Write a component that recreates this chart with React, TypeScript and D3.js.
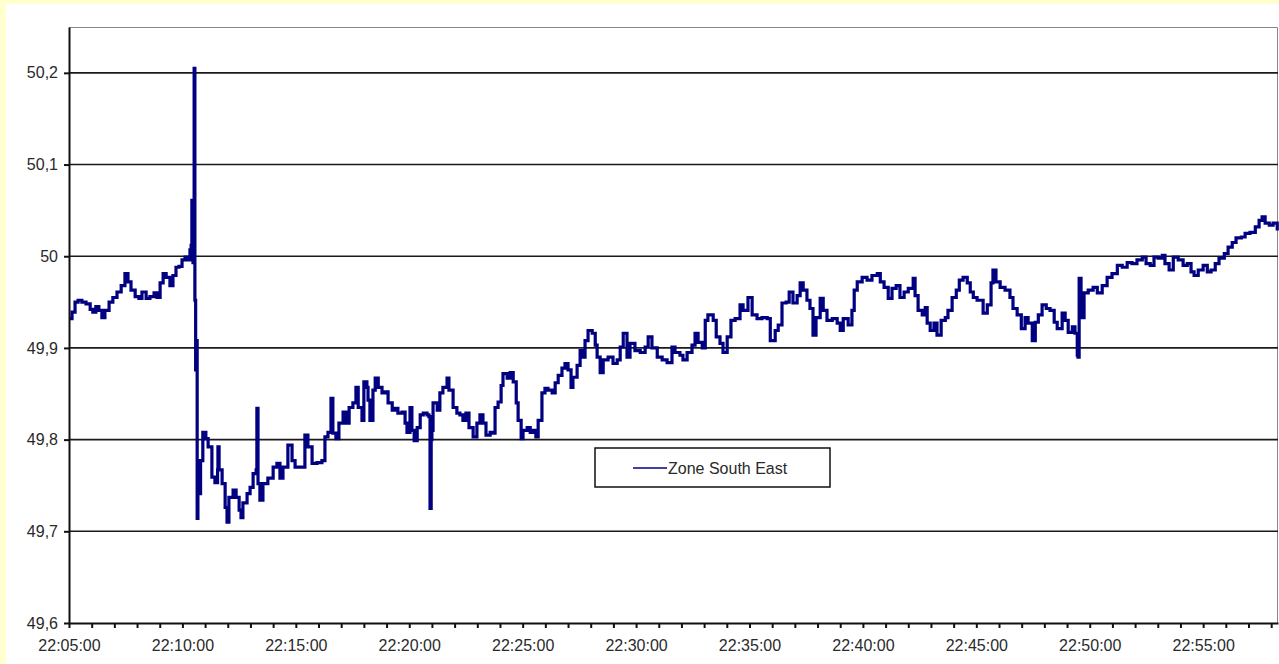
import React, { useEffect, useRef } from 'react'
import * as d3 from 'd3'

// y axis ticks (Hz)
const yTicks = [49.6, 49.7, 49.8, 49.9, 50.0, 50.1, 50.2]
const xStart = '22:05:00'
const xEnd = '22:58:18'
const seriesName = 'Zone South East'

// sample times
const sampleTimes = [
  '22:05:00', '22:05:08', '22:05:16', '22:05:24', '22:05:34', '22:05:45', '22:05:56', '22:06:03', '22:06:11', '22:06:19',
  '22:06:27', '22:06:35', '22:06:46', '22:06:56', '22:07:07', '22:07:18', '22:07:28', '22:07:36', '22:07:44', '22:07:55',
  '22:08:05', '22:08:13', '22:08:24', '22:08:34', '22:08:45', '22:08:53', '22:09:01', '22:09:09', '22:09:17', '22:09:27',
  '22:09:35', '22:09:43', '22:09:51', '22:09:59', '22:10:07', '22:10:15', '22:10:20', '22:10:23', '22:10:25', '22:10:28',
  '22:10:31', '22:10:33', '22:10:35', '22:10:36', '22:10:39', '22:10:41', '22:10:44', '22:10:48', '22:10:54', '22:11:02',
  '22:11:08', '22:11:18', '22:11:26', '22:11:33', '22:11:34', '22:11:37', '22:11:45', '22:11:53', '22:11:58', '22:12:03',
  '22:12:14', '22:12:22', '22:12:30', '22:12:35', '22:12:40', '22:12:51', '22:12:59', '22:13:07', '22:13:15', '22:13:17',
  '22:13:20', '22:13:25', '22:13:33', '22:13:46', '22:14:00', '22:14:10', '22:14:18', '22:14:26', '22:14:39', '22:14:50',
  '22:14:58', '22:15:11', '22:15:24', '22:15:32', '22:15:43', '22:15:56', '22:16:09', '22:16:17', '22:16:25', '22:16:33',
  '22:16:38', '22:16:46', '22:16:54', '22:17:05', '22:17:13', '22:17:21', '22:17:31', '22:17:39', '22:17:45', '22:17:55',
  '22:18:00', '22:18:08', '22:18:11', '22:18:16', '22:18:24', '22:18:30', '22:18:38', '22:18:48', '22:18:56', '22:19:04',
  '22:19:15', '22:19:22', '22:19:30', '22:19:41', '22:19:49', '22:19:54', '22:20:02', '22:20:07', '22:20:13', '22:20:21',
  '22:20:29', '22:20:37', '22:20:47', '22:20:52', '22:20:55', '22:20:58', '22:21:00', '22:21:03', '22:21:14', '22:21:21',
  '22:21:29', '22:21:40', '22:21:45', '22:21:56', '22:22:06', '22:22:14', '22:22:22', '22:22:30', '22:22:38', '22:22:49',
  '22:22:59', '22:23:07', '22:23:15', '22:23:23', '22:23:34', '22:23:42', '22:23:47', '22:23:55', '22:24:03', '22:24:08',
  '22:24:19', '22:24:27', '22:24:35', '22:24:43', '22:24:48', '22:24:56', '22:25:01', '22:25:12', '22:25:20', '22:25:28',
  '22:25:35', '22:25:41', '22:25:51', '22:25:59', '22:26:07', '22:26:18', '22:26:26', '22:26:34', '22:26:44', '22:26:52',
  '22:27:00', '22:27:08', '22:27:13', '22:27:24', '22:27:32', '22:27:40', '22:27:45', '22:27:53', '22:28:04', '22:28:12',
  '22:28:17', '22:28:25', '22:28:33', '22:28:46', '22:28:59', '22:29:10', '22:29:18', '22:29:26', '22:29:36', '22:29:44',
  '22:29:57', '22:30:11', '22:30:24', '22:30:32', '22:30:42', '22:30:56', '22:31:09', '22:31:22', '22:31:35', '22:31:43',
  '22:31:56', '22:32:04', '22:32:15', '22:32:28', '22:32:36', '22:32:44', '22:32:55', '22:33:03', '22:33:10', '22:33:24',
  '22:33:32', '22:33:42', '22:33:50', '22:34:01', '22:34:11', '22:34:22', '22:34:35', '22:34:43', '22:34:56', '22:35:07',
  '22:35:20', '22:35:33', '22:35:47', '22:35:55', '22:36:08', '22:36:16', '22:36:26', '22:36:37', '22:36:45', '22:36:55',
  '22:37:06', '22:37:14', '22:37:22', '22:37:32', '22:37:40', '22:37:48', '22:37:56', '22:38:07', '22:38:15', '22:38:25',
  '22:38:39', '22:38:52', '22:39:00', '22:39:08', '22:39:21', '22:39:31', '22:39:37', '22:39:45', '22:39:58', '22:40:11',
  '22:40:24', '22:40:38', '22:40:46', '22:40:56', '22:41:07', '22:41:17', '22:41:28', '22:41:38', '22:41:49', '22:42:00',
  '22:42:13', '22:42:18', '22:42:26', '22:42:37', '22:42:45', '22:42:50', '22:42:58', '22:43:08', '22:43:16', '22:43:27',
  '22:43:38', '22:43:45', '22:43:56', '22:44:07', '22:44:15', '22:44:25', '22:44:36', '22:44:44', '22:44:52', '22:45:02',
  '22:45:10', '22:45:18', '22:45:29', '22:45:39', '22:45:44', '22:45:52', '22:46:03', '22:46:16', '22:46:29', '22:46:37',
  '22:46:48', '22:46:59', '22:47:09', '22:47:17', '22:47:28', '22:47:36', '22:47:44', '22:47:54', '22:48:05', '22:48:15',
  '22:48:26', '22:48:34', '22:48:47', '22:48:55', '22:49:03', '22:49:14', '22:49:21', '22:49:27', '22:49:29', '22:49:32',
  '22:49:37', '22:49:45', '22:49:56', '22:50:09', '22:50:20', '22:50:33', '22:50:46', '22:50:59', '22:51:13', '22:51:26',
  '22:51:39', '22:51:52', '22:52:05', '22:52:19', '22:52:29', '22:52:40', '22:52:50', '22:53:01', '22:53:12', '22:53:19',
  '22:53:30', '22:53:41', '22:53:54', '22:54:07', '22:54:18', '22:54:28', '22:54:36', '22:54:47', '22:55:00', '22:55:11',
  '22:55:21', '22:55:32', '22:55:42', '22:55:56', '22:56:06', '22:56:17', '22:56:27', '22:56:41', '22:56:51', '22:57:04',
  '22:57:18', '22:57:28', '22:57:36', '22:57:44', '22:57:55', '22:58:05', '22:58:16',
]

// frequency, Hz
const zoneSouthEast = [
  49.932, 49.939, 49.950, 49.952, 49.950, 49.948, 49.942, 49.939, 49.945, 49.941,
  49.933, 49.941, 49.950, 49.955, 49.961, 49.968, 49.981, 49.972, 49.963, 49.956,
  49.954, 49.961, 49.954, 49.956, 49.960, 49.955, 49.971, 49.981, 49.977, 49.968,
  49.979, 49.988, 49.989, 49.996, 49.999, 49.996, 50.007, 50.012, 50.061, 49.993,
  50.205, 49.952, 49.876, 49.908, 49.714, 49.777, 49.741, 49.777, 49.808, 49.801,
  49.792, 49.759, 49.753, 49.767, 49.792, 49.767, 49.752, 49.726, 49.710, 49.737,
  49.745, 49.737, 49.723, 49.715, 49.731, 49.741, 49.748, 49.763, 49.767, 49.834,
  49.752, 49.734, 49.752, 49.758, 49.770, 49.774, 49.758, 49.770, 49.794, 49.777,
  49.770, 49.770, 49.805, 49.792, 49.774, 49.775, 49.777, 49.803, 49.808, 49.845,
  49.807, 49.801, 49.818, 49.830, 49.818, 49.835, 49.840, 49.857, 49.835, 49.821,
  49.863, 49.857, 49.843, 49.821, 49.854, 49.867, 49.857, 49.851, 49.852, 49.840,
  49.832, 49.834, 49.829, 49.830, 49.818, 49.808, 49.835, 49.810, 49.799, 49.813,
  49.827, 49.829, 49.827, 49.825, 49.725, 49.800, 49.810, 49.840, 49.832, 49.851,
  49.857, 49.867, 49.854, 49.835, 49.829, 49.827, 49.821, 49.829, 49.813, 49.803,
  49.818, 49.827, 49.818, 49.805, 49.808, 49.807, 49.835, 49.841, 49.859, 49.872,
  49.867, 49.873, 49.863, 49.840, 49.821, 49.801, 49.810, 49.813, 49.808, 49.810,
  49.803, 49.821, 49.851, 49.856, 49.854, 49.851, 49.862, 49.870, 49.878, 49.883,
  49.876, 49.857, 49.868, 49.881, 49.897, 49.890, 49.908, 49.919, 49.916, 49.903,
  49.890, 49.873, 49.887, 49.890, 49.883, 49.887, 49.901, 49.916, 49.890, 49.905,
  49.897, 49.895, 49.901, 49.912, 49.900, 49.890, 49.887, 49.884, 49.901, 49.895,
  49.892, 49.887, 49.895, 49.903, 49.916, 49.906, 49.900, 49.930, 49.936, 49.930,
  49.912, 49.905, 49.895, 49.912, 49.930, 49.932, 49.947, 49.941, 49.955, 49.936,
  49.932, 49.933, 49.932, 49.908, 49.919, 49.925, 49.949, 49.950, 49.961, 49.949,
  49.957, 49.971, 49.963, 49.952, 49.943, 49.914, 49.933, 49.954, 49.941, 49.930,
  49.932, 49.927, 49.919, 49.932, 49.925, 49.941, 49.963, 49.972, 49.977, 49.974,
  49.979, 49.981, 49.972, 49.966, 49.954, 49.965, 49.968, 49.955, 49.961, 49.965,
  49.976, 49.957, 49.941, 49.936, 49.944, 49.927, 49.919, 49.927, 49.914, 49.930,
  49.933, 49.941, 49.955, 49.963, 49.974, 49.977, 49.971, 49.961, 49.955, 49.952,
  49.952, 49.938, 49.947, 49.971, 49.985, 49.972, 49.966, 49.963, 49.955, 49.943,
  49.936, 49.921, 49.933, 49.927, 49.908, 49.928, 49.936, 49.947, 49.943, 49.941,
  49.928, 49.921, 49.938, 49.930, 49.917, 49.923, 49.916, 49.892, 49.890, 49.976,
  49.933, 49.960, 49.963, 49.966, 49.960, 49.968, 49.977, 49.981, 49.990, 49.988,
  49.993, 49.992, 49.996, 49.999, 49.992, 49.990, 49.999, 49.998, 50.001, 49.992,
  49.985, 49.999, 49.996, 49.990, 49.992, 49.983, 49.979, 49.985, 49.990, 49.983,
  49.985, 49.992, 49.998, 50.003, 50.010, 50.015, 50.020, 50.021, 50.025, 50.026,
  50.032, 50.039, 50.043, 50.036, 50.034, 50.036, 50.028,
]

const W = 1279
const H = 664
const margin = { top: 27, right: 1, bottom: 41, left: 69 }
const FONT = '"Liberation Sans", Arial, sans-serif'

const App = () => {
  const refSvg = useRef<SVGSVGElement>(null)

  useEffect(() => {
    document.body.style.margin = '0'
    document.body.style.overflow = 'hidden'

    const svg = d3.select(refSvg.current)
    svg.selectAll('*').remove()

    const parse = d3.timeParse('%H:%M:%S')
    const data = sampleTimes.map((t, i) => ({ t: parse(t) as Date, v: zoneSouthEast[i] }))

    const x = d3
      .scaleTime()
      .domain([parse(xStart) as Date, parse(xEnd) as Date])
      .range([margin.left, W - margin.right])
    const y = d3
      .scaleLinear()
      .domain([49.6, 50.25])
      .range([H - margin.bottom, margin.top])

    // backgrounds
    svg.append('rect').attr('width', W).attr('height', H).attr('fill', '#FFFFD0')
    svg.append('rect').attr('x', 6).attr('y', 4).attr('width', W - 6).attr('height', H - 4).attr('fill', '#fff')

    // plot frame (top + right)
    svg
      .append('path')
      .attr('d', `M${x.range()[0]},${y.range()[1] + 0.5}H${x.range()[1] - 0.5}V${y.range()[0]}`)
      .attr('fill', 'none')
      .attr('stroke', '#888')
      .attr('stroke-width', 1)

    // grid lines
    svg
      .append('g')
      .selectAll('line')
      .data(yTicks.slice(1))
      .enter()
      .append('line')
      .attr('x1', x.range()[0])
      .attr('x2', x.range()[1])
      .attr('y1', (d) => y(d))
      .attr('y2', (d) => y(d))
      .attr('stroke', '#1a1a1a')
      .attr('stroke-width', 1.6)

    // series (step shape, like the quantised recorder data)
    const line = d3
      .line<{ t: Date; v: number }>()
      .curve(d3.curveStepAfter)
      .x((d) => x(d.t))
      .y((d) => y(d.v))
    svg
      .append('path')
      .datum(data)
      .attr('d', line)
      .attr('fill', 'none')
      .attr('stroke', '#000080')
      .attr('stroke-width', 3.2)
      .attr('stroke-linejoin', 'miter')

    // x axis
    const fmt = d3.timeFormat('%H:%M:%S')
    const xAxis = svg
      .append('g')
      .attr('transform', `translate(0,${y.range()[0]})`)
      .call(
        d3
          .axisBottom(x)
          .ticks(d3.timeMinute.every(1))
          .tickSize(5)
          .tickSizeOuter(0)
          .tickPadding(12)
          .tickFormat((d) => ((d as Date).getMinutes() % 5 === 0 ? fmt(d as Date) : ''))
      )

    // y axis
    const yAxis = svg
      .append('g')
      .attr('transform', `translate(${x.range()[0]},0)`)
      .call(
        d3
          .axisLeft(y)
          .tickValues(yTicks)
          .tickSize(5)
          .tickSizeOuter(0)
          .tickPadding(6)
          .tickFormat((d) => String(+(d as number).toFixed(1)).replace('.', ','))
      )

    ;[xAxis, yAxis].forEach((g) => {
      g.attr('font-family', FONT).attr('font-size', 16)
      g.select('.domain').attr('stroke', '#111').attr('stroke-width', 2)
      g.selectAll('.tick line').attr('stroke', '#111').attr('stroke-width', 2)
      g.selectAll('.tick text').attr('fill', '#2a2a2a')
    })

    // legend
    const lg = svg.append('g')
    lg.append('rect')
      .attr('x', 595)
      .attr('y', 448)
      .attr('width', 235)
      .attr('height', 39)
      .attr('fill', '#fff')
      .attr('stroke', '#111')
      .attr('stroke-width', 1.5)
    lg.append('line')
      .attr('x1', 633)
      .attr('x2', 667)
      .attr('y1', 468)
      .attr('y2', 468)
      .attr('stroke', '#000080')
      .attr('stroke-width', 1.5)
    lg.append('text')
      .attr('x', 668)
      .attr('y', 474)
      .attr('font-family', FONT)
      .attr('font-size', 16)
      .attr('fill', '#2a2a2a')
      .text(seriesName)
  }, [])

  return (
    <svg
      ref={refSvg}
      width={W}
      height={H}
      style={{ position: 'absolute', left: 0, top: 0, display: 'block' }}
    />
  )
}

export default App
